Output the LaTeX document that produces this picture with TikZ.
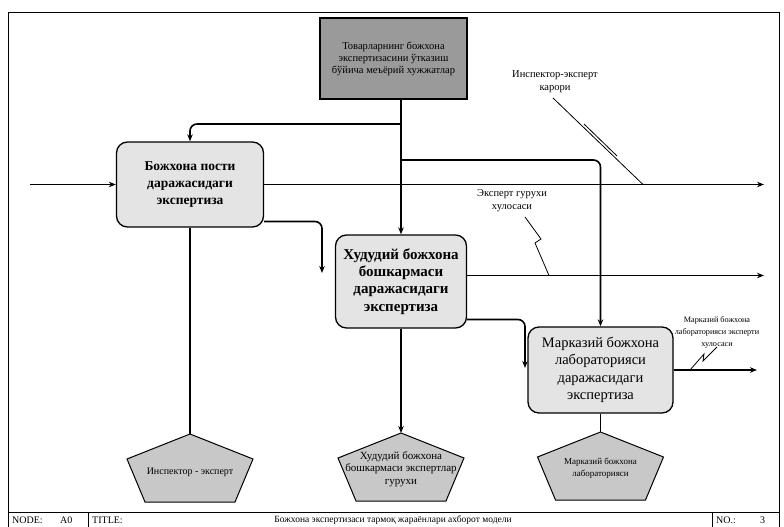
\documentclass[tikz,border=0pt]{standalone}
\usepackage{fontspec}
\setmainfont{Liberation Serif}
\usetikzlibrary{arrows.meta}
\definecolor{ctrlfill}{HTML}{9A9A9A}
\definecolor{boxfill}{HTML}{E4E4E4}
\definecolor{pentfill}{HTML}{C8C8C8}
\begin{document}
\begin{tikzpicture}[x=1pt,y=-1pt,
  conn/.style={line width=1.6pt, rounded corners=7pt},
  arr/.style={conn,-{Stealth[length=7pt,width=5.5pt]}},
  actbox/.style={draw, line width=1.3pt, rounded corners=11pt, fill=boxfill, align=center, inner sep=0pt},
  ctrlbox/.style={draw, line width=1.2pt, fill=ctrlfill, align=center,
    font=\fontsize{10.5}{12}\selectfont, inner sep=0pt, minimum width=147pt, minimum height=81pt},
  lbl/.style={align=center, font=\fontsize{10.5}{13}\selectfont, inner sep=0pt},
  smalllbl/.style={align=center, font=\fontsize{8.2}{12}\selectfont, inner sep=0pt},
  penttext/.style={align=center, font=\fontsize{10}{12}\selectfont, inner sep=0pt},
  callout/.style={line width=0.8pt},
  frameline/.style={line width=0.9pt},
  bartext/.style={anchor=west, font=\fontsize{10}{12}\selectfont, inner sep=0pt},
  pent/.pic={
    \coordinate (-top) at (0,0);
    \draw[line width=1pt, fill=pentfill] (0,0) -- (63,25) -- (45,68) -- (-45,68) -- (-63,25) -- cycle;
  }
]
\useasboundingbox (0,0) rectangle (784,527);
\fill[white] (0,0) rectangle (784,527);

% frame and title bar
\draw[frameline] (8,12) rectangle (779,527);
\draw[frameline] (8,512) -- (779,512);
\draw[frameline] (88,512) -- (88,527);
\draw[frameline] (712,512) -- (712,527);
\node[bartext] (nodelbl) at (12,520) {NODE:};
\node[bartext] (nodeval) at (60,520) {A0};
\node[bartext] (titlelbl) at (92,520) {TITLE:};
\node[font=\fontsize{9.5}{12}\selectfont, inner sep=0pt] (title) at (393,520) {Божхона экспертизаси тармоқ жараёнлари ахборот модели};
\node[bartext] (nolbl) at (716,520) {NO.:};
\node[bartext] (noval) at (760,520) {3};

% control box
\node[ctrlbox] (g) at (393.5,58.5) {Товарларнинг божхона\\экспертизасини ўтказиш\\бўйича меъёрий хужжатлар};

% activity boxes
\node[actbox, minimum width=147pt, minimum height=85pt, font=\bfseries\fontsize{13.5}{16.7}\selectfont] (b1) at (190,184.5) {Божхона пости\\даражасидаги\\экспертиза};
\node[actbox, minimum width=131pt, minimum height=93pt, font=\bfseries\fontsize{15}{17.3}\selectfont] (b2) at (401,281.5) {Худудий божхона\\бошкармаси\\даражасидаги\\экспертиза};
\node[actbox, minimum width=145pt, minimum height=86pt, font=\fontsize{14.5}{17.5}\selectfont] (b3) at (600.5,370) {Марказий божхона\\лабораторияси\\даражасидаги\\экспертиза};

% mechanisms
\pic (p1) at (190,434) {pent};
\pic (p2) at (401,433) {pent};
\pic (p3) at (600.5,432) {pent};
\node[penttext] (t1) at (190,472) {Инспектор - эксперт};
\node[penttext, font=\fontsize{11}{12.5}\selectfont] (t2) at (401,469) {Худудий божхона\\бошкармаси экспертлар\\гурухи};
\node[penttext, font=\fontsize{9}{12}\selectfont] (t3) at (600.5,468) {Марказий божхона\\лабораторияси};

% free ends
\coordinate (in1) at (30,184.5);
\coordinate (o1) at (764,184.5);
\coordinate (o1b) at (322,273);
\coordinate (o2) at (764,275.5);
\coordinate (o2b) at (525,368);
\coordinate (o3) at (757,370);
\coordinate (j1) at (401,124);
\coordinate (j2) at (401,160);

% input
\draw[arr] (in1) -- (b1.west);

% controls
\draw[arr] (g.south -| b2.north) -- (b2.north);
\draw[arr] (j1) -| (b1.north);
\draw[arr] (j2) -| (b3.north);

% outputs
\draw[arr] (b1.east) -- (o1);
\draw[arr] ([yshift=-37pt]b1.east) -| (o1b);
\draw[arr] ([yshift=6pt]b2.east) -- (o2);
\draw[arr] ([yshift=-38pt]b2.east) -| (o2b);
\draw[arr] (b3.east) -- (o3);

% mechanisms links
\draw[conn] (b1.south) -- (p1-top);
\draw[arr] (b2.south) -- (p2-top);
\draw[conn] (b3.south) -- (p3-top);

% labels with squiggles
\node[lbl] (l1) at (555,82) {Инспектор-эксперт\\карори};
\coordinate (l1end) at (643,184.5);
\draw[callout] (553,98) -- (l1end);
\draw[callout] (584,124) -- (617,156);

\node[lbl] (l2) at (512,201) {Эксперт гурухи\\хулосаси};
\coordinate (l2end) at (549,275.5);
\draw[callout] (525,217) -- (541,239) -- (535,243) -- (l2end);

\node[smalllbl] (l3) at (717,332) {Марказий божхона\\лабораторияси эксперти\\хулосаси};
\coordinate (l3end) at (690,370);
\draw[callout] (l3end) -- (704,354) -- (703,361) -- (717,347);

\end{tikzpicture}
\end{document}
